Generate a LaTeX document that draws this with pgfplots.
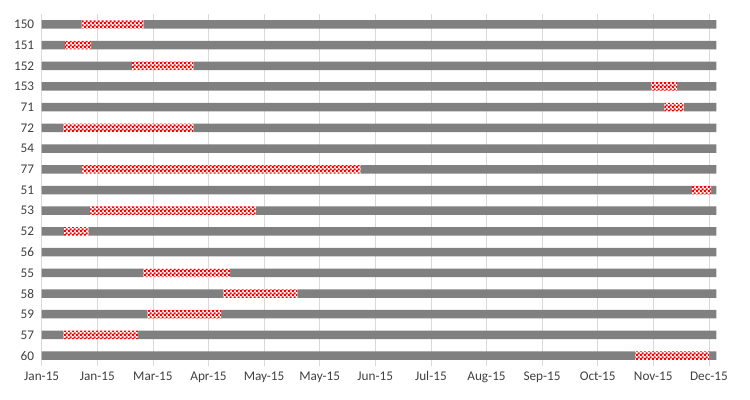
\documentclass[border=0pt]{standalone}
\usepackage{pgfplots}
\pgfplotsset{compat=1.18}
\usepackage{pgfplotstable}
\usepackage{fontspec}
\setmainfont{Carlito}
\usetikzlibrary{patterns}
\definecolor{barGray}{HTML}{808080}
\definecolor{gridGray}{HTML}{D9D9D9}
\definecolor{labelGray}{HTML}{404040}
\pgfdeclarepatternformonly{checker}{\pgfqpoint{0bp}{0bp}}{\pgfqpoint{4bp}{4bp}}{\pgfqpoint{4bp}{4bp}}{%
\pgfpathrectangle{\pgfqpoint{0bp}{0bp}}{\pgfqpoint{2.4bp}{2.4bp}}%
\pgfpathrectangle{\pgfqpoint{2bp}{2bp}}{\pgfqpoint{2.4bp}{2.4bp}}%
\pgfusepath{fill}}
\pgfplotstableread{
row start len rest
0 21.6 33.2 309.2
1 12.6 14.0 337.4
2 48.7 33.1 282.2
3 328.8 14.1 21.1
4 335.9 10.4 17.7
5 11.7 70.1 282.2
6 364 0 0
7 21.7 150.3 192
8 350.9 10.3 2.8
9 26.0 89.6 248.4
10 12.0 13.2 338.8
11 364 0 0
12 54.8 46.8 262.4
13 98.0 40.0 226
14 57.0 39.8 267.2
15 11.7 40.3 312
16 320.2 39.9 3.9
}\data
\begin{document}
\begin{tikzpicture}
\useasboundingbox (0,0) rectangle (750bp,400bp);
\begin{axis}[at={(41.7bp,34bp)}, anchor=south west, scale only axis,
  width=675bp, height=352bp,
  xmin=0, xmax=364.2, ymin=-0.5, ymax=16.5, y dir=reverse,
  xbar stacked, bar width=8.5bp,
  xtick={0,30,...,360},
  xticklabels={Jan-15,Jan-15,Mar-15,Apr-15,May-15,May-15,Jun-15,Jul-15,Aug-15,Sep-15,Oct-15,Nov-15,Dec-15},
  ytick={0,...,16},
  yticklabels={150,151,152,153,71,72,54,77,51,53,52,56,55,58,59,57,60},
  xmajorgrids, grid style={color=gridGray, line width=0.8bp},
  axis line style={draw=none}, major tick style={draw=none},
  tick label style={font=\fontsize{13.3}{15}\selectfont, text=labelGray},
  xticklabel style={yshift=-2bp},
  yticklabel style={xshift=-4bp},
  /pgf/number format/assume math mode=true,
]
\addplot[fill=barGray, draw=none] table[x=start, y=row]{\data};
\addplot[fill=white, draw=none, postaction={pattern=checker, pattern color=red}] table[x=len, y=row]{\data};
\addplot[fill=barGray, draw=none] table[x=rest, y=row]{\data};
\end{axis}
\end{tikzpicture}
\end{document}
